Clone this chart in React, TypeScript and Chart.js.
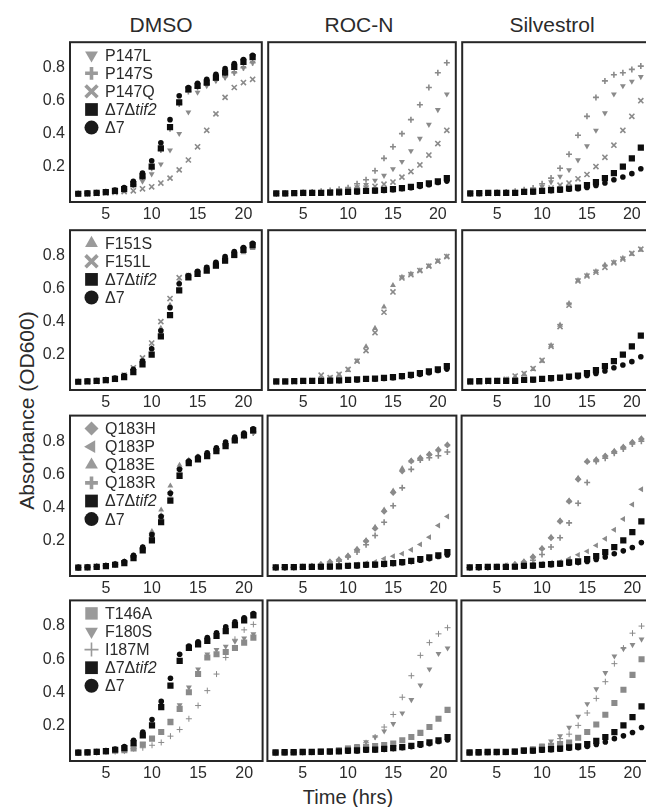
import React, { useEffect, useRef } from 'react';
import { Chart, registerables } from 'chart.js';
import { drawPoint } from 'chart.js/helpers';

Chart.register(...registerables);

// ---------------- data ----------------
const HOURS = [2, 3, 4, 5, 6, 7, 8, 9, 10, 11, 12, 13, 14, 15, 16, 17, 18, 19, 20, 21];
const X_TICKS = [5, 10, 15, 20];
const Y_TICKS = [0.2, 0.4, 0.6, 0.8];
const CONDITIONS = ['DMSO', 'ROC-N', 'Silvestrol'];
const X_TITLE = 'Time (hrs)';
const Y_TITLE = 'Absorbance (OD600)';

// controls (Δ7Δtif2 = squares, Δ7 = circles)
const CTRL_SQ_DMSO = [0.035, 0.037, 0.040, 0.045, 0.053, 0.063, 0.093, 0.140, 0.200, 0.310, 0.440, 0.590, 0.668, 0.690, 0.710, 0.740, 0.770, 0.805, 0.835, 0.865];
const CTRL_CI_DMSO = [0.037, 0.039, 0.042, 0.048, 0.057, 0.072, 0.110, 0.160, 0.235, 0.345, 0.485, 0.630, 0.680, 0.705, 0.730, 0.760, 0.795, 0.825, 0.850, 0.875];
const CTRL_SQ_ROCN = [0.037, 0.038, 0.039, 0.040, 0.040, 0.041, 0.042, 0.043, 0.047, 0.049, 0.053, 0.054, 0.058, 0.063, 0.069, 0.077, 0.087, 0.098, 0.110, 0.130];
const CTRL_CI_ROCN = [0.036, 0.037, 0.038, 0.039, 0.039, 0.040, 0.041, 0.042, 0.044, 0.046, 0.050, 0.052, 0.055, 0.060, 0.065, 0.072, 0.080, 0.090, 0.103, 0.112];
const CTRL_SQ_SILV = [0.037, 0.039, 0.040, 0.040, 0.040, 0.041, 0.047, 0.048, 0.053, 0.057, 0.060, 0.067, 0.073, 0.087, 0.106, 0.130, 0.160, 0.200, 0.250, 0.315];
const CTRL_CI_SILV = [0.036, 0.037, 0.038, 0.039, 0.040, 0.041, 0.044, 0.046, 0.050, 0.053, 0.056, 0.062, 0.066, 0.073, 0.085, 0.100, 0.120, 0.137, 0.157, 0.187];

// row 1
const P147L_DMSO = [0.035, 0.037, 0.040, 0.045, 0.050, 0.058, 0.085, 0.110, 0.155, 0.215, 0.300, 0.400, 0.530, 0.650, 0.690, 0.720, 0.740, 0.770, 0.800, 0.830];
const P147S_DMSO = [0.035, 0.037, 0.040, 0.045, 0.052, 0.062, 0.090, 0.135, 0.190, 0.300, 0.430, 0.580, 0.655, 0.680, 0.700, 0.725, 0.745, 0.770, 0.800, 0.830];
const P147Q_DMSO = [0.033, 0.035, 0.037, 0.040, 0.043, 0.048, 0.053, 0.065, 0.077, 0.100, 0.130, 0.180, 0.240, 0.320, 0.420, 0.520, 0.620, 0.680, 0.710, 0.730];
const P147L_ROCN = [0.037, 0.038, 0.040, 0.041, 0.043, 0.046, 0.050, 0.056, 0.066, 0.077, 0.090, 0.116, 0.146, 0.186, 0.230, 0.295, 0.370, 0.455, 0.545, 0.640];
const P147S_ROCN = [0.037, 0.038, 0.040, 0.042, 0.045, 0.050, 0.055, 0.063, 0.072, 0.096, 0.120, 0.175, 0.250, 0.320, 0.400, 0.485, 0.575, 0.680, 0.770, 0.830];
const P147Q_ROCN = [0.035, 0.036, 0.037, 0.038, 0.040, 0.042, 0.045, 0.050, 0.055, 0.060, 0.070, 0.080, 0.093, 0.106, 0.136, 0.170, 0.210, 0.270, 0.340, 0.420];
const P147L_SILV = [0.037, 0.038, 0.040, 0.041, 0.043, 0.045, 0.050, 0.058, 0.080, 0.106, 0.140, 0.180, 0.240, 0.325, 0.420, 0.525, 0.640, 0.690, 0.717, 0.745];
const P147S_SILV = [0.037, 0.038, 0.040, 0.042, 0.045, 0.050, 0.060, 0.070, 0.096, 0.130, 0.190, 0.275, 0.390, 0.505, 0.620, 0.720, 0.757, 0.770, 0.790, 0.810];
const P147Q_SILV = [0.035, 0.036, 0.037, 0.038, 0.040, 0.042, 0.045, 0.050, 0.055, 0.070, 0.087, 0.100, 0.126, 0.152, 0.200, 0.256, 0.330, 0.420, 0.505, 0.600];

// row 2
const F151S_DMSO = [0.033, 0.035, 0.038, 0.042, 0.048, 0.065, 0.100, 0.160, 0.240, 0.360, 0.500, 0.640, 0.665, 0.685, 0.710, 0.735, 0.765, 0.795, 0.820, 0.845];
const F151L_DMSO = [0.033, 0.035, 0.038, 0.042, 0.050, 0.075, 0.120, 0.180, 0.270, 0.400, 0.540, 0.667, 0.680, 0.700, 0.725, 0.750, 0.780, 0.810, 0.835, 0.855];
const F151S_ROCN = [0.033, 0.034, 0.035, 0.037, 0.040, 0.050, 0.055, 0.075, 0.105, 0.160, 0.248, 0.360, 0.490, 0.620, 0.670, 0.690, 0.710, 0.737, 0.767, 0.795];
const F151L_ROCN = [0.033, 0.034, 0.035, 0.037, 0.042, 0.075, 0.060, 0.080, 0.110, 0.160, 0.224, 0.333, 0.457, 0.580, 0.665, 0.685, 0.710, 0.737, 0.767, 0.795];
const F151S_SILV = [0.033, 0.034, 0.036, 0.040, 0.048, 0.065, 0.080, 0.110, 0.160, 0.255, 0.380, 0.510, 0.650, 0.680, 0.705, 0.745, 0.760, 0.785, 0.810, 0.835];
const F151L_SILV = [0.033, 0.034, 0.036, 0.040, 0.050, 0.070, 0.085, 0.115, 0.165, 0.250, 0.370, 0.500, 0.647, 0.677, 0.700, 0.730, 0.757, 0.780, 0.814, 0.840];

// row 3
const Q183H_DMSO = [0.036, 0.038, 0.041, 0.047, 0.056, 0.070, 0.105, 0.155, 0.240, 0.350, 0.490, 0.635, 0.680, 0.705, 0.725, 0.755, 0.785, 0.815, 0.840, 0.860];
const Q183P_DMSO = [0.036, 0.038, 0.041, 0.046, 0.055, 0.068, 0.100, 0.150, 0.230, 0.340, 0.480, 0.625, 0.675, 0.700, 0.720, 0.750, 0.780, 0.810, 0.835, 0.855];
const Q183E_DMSO = [0.036, 0.038, 0.041, 0.047, 0.057, 0.072, 0.108, 0.160, 0.255, 0.385, 0.530, 0.656, 0.685, 0.705, 0.725, 0.755, 0.785, 0.815, 0.840, 0.860];
const Q183R_DMSO = [0.036, 0.038, 0.041, 0.046, 0.054, 0.066, 0.098, 0.145, 0.220, 0.330, 0.460, 0.610, 0.670, 0.695, 0.715, 0.745, 0.775, 0.805, 0.830, 0.850];
const Q183H_ROCN = [0.035, 0.036, 0.038, 0.040, 0.045, 0.055, 0.070, 0.083, 0.105, 0.144, 0.196, 0.273, 0.376, 0.490, 0.620, 0.680, 0.697, 0.720, 0.747, 0.777];
const Q183P_ROCN = [0.035, 0.036, 0.037, 0.038, 0.040, 0.042, 0.044, 0.046, 0.050, 0.055, 0.062, 0.070, 0.090, 0.105, 0.120, 0.144, 0.176, 0.220, 0.290, 0.345];
const Q183E_ROCN = [0.035, 0.036, 0.038, 0.040, 0.045, 0.055, 0.070, 0.085, 0.108, 0.148, 0.200, 0.280, 0.385, 0.500, 0.635, 0.682, 0.700, 0.722, 0.750, 0.780];
const Q183R_ROCN = [0.035, 0.036, 0.037, 0.039, 0.042, 0.048, 0.058, 0.075, 0.100, 0.130, 0.174, 0.230, 0.310, 0.410, 0.518, 0.630, 0.686, 0.700, 0.712, 0.735];
const Q183H_SILV = [0.035, 0.036, 0.038, 0.040, 0.045, 0.055, 0.070, 0.100, 0.150, 0.216, 0.316, 0.437, 0.570, 0.677, 0.686, 0.710, 0.737, 0.763, 0.793, 0.814];
const Q183P_SILV = [0.035, 0.037, 0.040, 0.045, 0.050, 0.050, 0.055, 0.058, 0.060, 0.065, 0.070, 0.090, 0.113, 0.134, 0.170, 0.210, 0.265, 0.330, 0.417, 0.510];
const Q183E_SILV = [0.035, 0.036, 0.038, 0.040, 0.046, 0.056, 0.072, 0.102, 0.152, 0.220, 0.320, 0.440, 0.577, 0.680, 0.690, 0.712, 0.740, 0.766, 0.795, 0.816];
const Q183R_SILV = [0.035, 0.036, 0.037, 0.039, 0.042, 0.048, 0.058, 0.080, 0.115, 0.160, 0.216, 0.306, 0.425, 0.550, 0.677, 0.697, 0.727, 0.753, 0.783, 0.800];

// row 4
const T146A_DMSO = [0.035, 0.036, 0.040, 0.043, 0.047, 0.050, 0.060, 0.085, 0.120, 0.160, 0.220, 0.300, 0.400, 0.510, 0.610, 0.630, 0.643, 0.667, 0.700, 0.730];
const F180S_DMSO = [0.035, 0.036, 0.040, 0.043, 0.047, 0.052, 0.065, 0.090, 0.125, 0.165, 0.230, 0.323, 0.430, 0.540, 0.630, 0.657, 0.677, 0.707, 0.727, 0.753];
const I187M_DMSO = [0.033, 0.034, 0.036, 0.039, 0.042, 0.045, 0.060, 0.065, 0.080, 0.097, 0.135, 0.175, 0.240, 0.320, 0.410, 0.510, 0.610, 0.720, 0.777, 0.810];
const T146A_ROCN = [0.033, 0.034, 0.035, 0.036, 0.038, 0.040, 0.045, 0.050, 0.060, 0.067, 0.070, 0.075, 0.081, 0.090, 0.110, 0.130, 0.155, 0.190, 0.240, 0.294];
const F180S_ROCN = [0.033, 0.034, 0.035, 0.036, 0.038, 0.042, 0.048, 0.055, 0.067, 0.077, 0.100, 0.130, 0.165, 0.210, 0.274, 0.355, 0.443, 0.540, 0.633, 0.667];
const I187M_ROCN = [0.033, 0.034, 0.035, 0.036, 0.038, 0.040, 0.044, 0.048, 0.055, 0.065, 0.095, 0.130, 0.190, 0.266, 0.370, 0.500, 0.623, 0.700, 0.753, 0.790];
const T146A_SILV = [0.033, 0.034, 0.035, 0.036, 0.038, 0.042, 0.050, 0.055, 0.070, 0.077, 0.087, 0.097, 0.125, 0.160, 0.205, 0.264, 0.335, 0.415, 0.505, 0.600];
const F180S_SILV = [0.033, 0.034, 0.035, 0.037, 0.040, 0.045, 0.052, 0.060, 0.080, 0.105, 0.137, 0.187, 0.254, 0.330, 0.420, 0.518, 0.618, 0.663, 0.687, 0.720];
const I187M_SILV = [0.033, 0.034, 0.035, 0.036, 0.038, 0.042, 0.048, 0.055, 0.070, 0.090, 0.120, 0.147, 0.200, 0.275, 0.363, 0.464, 0.573, 0.667, 0.757, 0.800];

const LABEL_DD = 'Δ7Δtif2';
const LABEL_D = 'Δ7';

// ---------------- styles ----------------
const FONT = '"Liberation Sans", Arial, Helvetica, sans-serif';
const GRAY = '#8a8a8a';
const LEGEND_GRAY = '#9a9a9a';
const BLACK = '#0d0d0d';
const TEXT = '#2b2b2b';
const BOX = '#262626';

type MarkerStyle = {
  pointStyle: string; rotation: number; r: number; bw: number; lr: number; lbw: number; color: string; lcolor: string;
};
const MARKERS: Record<string, MarkerStyle> = {
  triDown: { pointStyle: 'triangle', rotation: 180, r: 3.4, bw: 0, lr: 7.4, lbw: 0, color: GRAY, lcolor: LEGEND_GRAY },
  triUp: { pointStyle: 'triangle', rotation: 0, r: 3.4, bw: 0, lr: 7.4, lbw: 0, color: GRAY, lcolor: LEGEND_GRAY },
  triLeft: { pointStyle: 'triangle', rotation: 270, r: 3.4, bw: 0, lr: 7.4, lbw: 0, color: GRAY, lcolor: LEGEND_GRAY },
  plus: { pointStyle: 'cross', rotation: 0, r: 3.0, bw: 1.6, lr: 6.4, lbw: 3.6, color: GRAY, lcolor: LEGEND_GRAY },
  thinPlus: { pointStyle: 'cross', rotation: 0, r: 3.0, bw: 1.0, lr: 7.0, lbw: 1.6, color: GRAY, lcolor: LEGEND_GRAY },
  ex: { pointStyle: 'crossRot', rotation: 0, r: 3.6, bw: 1.6, lr: 8.4, lbw: 3.6, color: GRAY, lcolor: LEGEND_GRAY },
  diamond: { pointStyle: 'rectRot', rotation: 0, r: 3.4, bw: 0, lr: 7.0, lbw: 0, color: GRAY, lcolor: LEGEND_GRAY },
  graySquare: { pointStyle: 'rect', rotation: 0, r: 4.3, bw: 0, lr: 8.8, lbw: 0, color: GRAY, lcolor: LEGEND_GRAY },
  blackSquare: { pointStyle: 'rect', rotation: 0, r: 4.4, bw: 0, lr: 9.0, lbw: 0, color: BLACK, lcolor: '#1a1a1a' },
  blackCircle: { pointStyle: 'circle', rotation: 0, r: 2.8, bw: 0, lr: 7.0, lbw: 0, color: BLACK, lcolor: '#1a1a1a' },
};

type Series = { label: string; marker: string; values: number[][] };

const CONTROLS: Series[] = [
  { label: LABEL_DD, marker: 'blackSquare', values: [CTRL_SQ_DMSO, CTRL_SQ_ROCN, CTRL_SQ_SILV] },
  { label: LABEL_D, marker: 'blackCircle', values: [CTRL_CI_DMSO, CTRL_CI_ROCN, CTRL_CI_SILV] },
];

const ROWS: Series[][] = [
  [
    { label: 'P147L', marker: 'triDown', values: [P147L_DMSO, P147L_ROCN, P147L_SILV] },
    { label: 'P147S', marker: 'plus', values: [P147S_DMSO, P147S_ROCN, P147S_SILV] },
    { label: 'P147Q', marker: 'ex', values: [P147Q_DMSO, P147Q_ROCN, P147Q_SILV] },
    ...CONTROLS,
  ],
  [
    { label: 'F151S', marker: 'triUp', values: [F151S_DMSO, F151S_ROCN, F151S_SILV] },
    { label: 'F151L', marker: 'ex', values: [F151L_DMSO, F151L_ROCN, F151L_SILV] },
    ...CONTROLS,
  ],
  [
    { label: 'Q183H', marker: 'diamond', values: [Q183H_DMSO, Q183H_ROCN, Q183H_SILV] },
    { label: 'Q183P', marker: 'triLeft', values: [Q183P_DMSO, Q183P_ROCN, Q183P_SILV] },
    { label: 'Q183E', marker: 'triUp', values: [Q183E_DMSO, Q183E_ROCN, Q183E_SILV] },
    { label: 'Q183R', marker: 'plus', values: [Q183R_DMSO, Q183R_ROCN, Q183R_SILV] },
    ...CONTROLS,
  ],
  [
    { label: 'T146A', marker: 'graySquare', values: [T146A_DMSO, T146A_ROCN, T146A_SILV] },
    { label: 'F180S', marker: 'triDown', values: [F180S_DMSO, F180S_ROCN, F180S_SILV] },
    { label: 'I187M', marker: 'thinPlus', values: [I187M_DMSO, I187M_ROCN, I187M_SILV] },
    ...CONTROLS,
  ],
];

// ---------------- layout ----------------
const COL_LEFT = [70, 265, 459];
const COL_W = [195, 194, 194];
const ROW_TOP = [39, 227, 413, 598];
const ROW_H = 163;
const Y_AXIS_W = 70;
const X_AXIS_H = 26;
const PAD = 2;
const X_MIN = 1.1, X_MAX = 22;
const Y_MIN = -0.015, Y_MAX = 0.955;

const boxPlugin = {
  id: 'panelBox',
  afterDatasetsDraw(chart: any) {
    const { ctx, chartArea: a } = chart;
    ctx.save();
    ctx.strokeStyle = BOX;
    ctx.lineWidth = 2;
    ctx.strokeRect(a.left, a.top, a.right - a.left, a.bottom - a.top);
    ctx.restore();
  },
};

function makeLegendPlugin(series: Series[]) {
  return {
    id: 'insideLegend',
    afterDraw(chart: any) {
      const { ctx, chartArea: a } = chart;
      ctx.save();
      series.forEach((s, i) => {
        const m = MARKERS[s.marker];
        const cy = a.top + 13 + i * 18.1;
        const cx = a.left + 21.5;
        ctx.fillStyle = m.lcolor;
        ctx.strokeStyle = m.lcolor;
        ctx.lineWidth = m.lbw;
        drawPoint(ctx, { pointStyle: m.pointStyle as any, rotation: m.rotation, radius: m.lr, borderWidth: m.lbw }, cx, cy);
        ctx.fillStyle = TEXT;
        ctx.textBaseline = 'middle';
        ctx.textAlign = 'left';
        let tx = a.left + 35;
        const idx = s.label.indexOf('tif2');
        const parts = idx >= 0 ? [[s.label.slice(0, idx), false], [s.label.slice(idx), true]] : [[s.label, false]];
        parts.forEach(([t, it]) => {
          ctx.font = `${it ? 'italic ' : ''}16px ${FONT}`;
          ctx.fillText(t as string, tx, cy + 1);
          tx += ctx.measureText(t as string).width;
        });
      });
      ctx.restore();
    },
  };
}

function Panel({ row, col }: { row: number; col: number }) {
  const ref = useRef<HTMLCanvasElement>(null);
  const leftExtra = col === 0 ? Y_AXIS_W : PAD;
  const width = leftExtra + COL_W[col] + PAD;
  const height = PAD + ROW_H + X_AXIS_H;
  const left = COL_LEFT[col] - leftExtra;
  const top = ROW_TOP[row] - PAD;

  useEffect(() => {
    const series = ROWS[row];
    const drawOrder = [...series].reverse(); // controls first -> drawn on top
    const datasets = drawOrder.map((s) => {
      const m = MARKERS[s.marker];
      return {
        label: s.label,
        data: HOURS.map((h, i) => ({ x: h, y: s.values[col][i] })),
        showLine: false,
        pointStyle: m.pointStyle,
        pointRotation: m.rotation,
        pointRadius: m.r,
        pointHoverRadius: m.r,
        pointBorderWidth: m.bw,
        pointBackgroundColor: m.color,
        pointBorderColor: m.color,
        backgroundColor: m.color,
        borderColor: m.color,
      };
    });
    const tickFont = { family: FONT, size: 16 };
    const plugins: any[] = [boxPlugin];
    if (col === 0) plugins.push(makeLegendPlugin(series));
    const chart = new Chart(ref.current as HTMLCanvasElement, {
      type: 'scatter',
      data: { datasets } as any,
      options: {
        animation: false,
        responsive: false,
        maintainAspectRatio: false,
        events: [],
        layout: { padding: { left: col === 0 ? 0 : PAD, right: PAD, top: PAD, bottom: 0 } },
        plugins: { legend: { display: false }, tooltip: { enabled: false }, title: { display: false } },
        scales: {
          x: {
            type: 'linear',
            min: X_MIN,
            max: X_MAX,
            afterBuildTicks: (s: any) => { s.ticks = X_TICKS.map((v) => ({ value: v })); },
            afterFit: (s: any) => { s.height = X_AXIS_H; s.paddingLeft = 0; s.paddingRight = 0; s.paddingTop = 0; s.paddingBottom = 0; },
            grid: { display: false, drawTicks: false },
            border: { display: false },
            ticks: { font: tickFont, color: TEXT, padding: 3, maxRotation: 0, autoSkip: false, callback: (v: any) => String(v) },
          },
          y: {
            type: 'linear',
            display: col === 0,
            min: Y_MIN,
            max: Y_MAX,
            afterBuildTicks: (s: any) => { s.ticks = Y_TICKS.map((v) => ({ value: v })); },
            afterFit: (s: any) => { s.width = col === 0 ? Y_AXIS_W : 0; s.paddingTop = 0; s.paddingBottom = 0; s.paddingLeft = 0; s.paddingRight = 0; },
            grid: { display: false, drawTicks: false },
            border: { display: false },
            ticks: { font: tickFont, color: TEXT, padding: 5, autoSkip: false, callback: (v: any) => Number(v).toFixed(1) },
          },
        },
      } as any,
      plugins,
    });
    return () => chart.destroy();
  }, [row, col]);

  return (
    <canvas
      ref={ref}
      width={width}
      height={height}
      style={{ position: 'absolute', left, top, width, height }}
    />
  );
}

const TITLE_CENTERS = [161, 359, 552];

export default function App() {
  const panels: React.ReactNode[] = [];
  ROWS.forEach((_, r) => CONDITIONS.forEach((__, c) => panels.push(<Panel key={`${r}-${c}`} row={r} col={c} />)));
  return (
    <div style={{ position: 'fixed', left: 0, top: 0, width: 646, height: 807, overflow: 'hidden', background: '#fff', fontFamily: FONT, color: TEXT }}>
      {CONDITIONS.map((t, i) => (
        <div key={t} style={{ position: 'absolute', left: TITLE_CENTERS[i] - 100, width: 200, top: 13.5, height: 21, lineHeight: '21px', fontSize: 21, textAlign: 'center', whiteSpace: 'nowrap' }}>{t}</div>
      ))}
      <div style={{ position: 'absolute', left: 26 - 150, top: 410 - 10.5, width: 300, height: 21, lineHeight: '21px', fontSize: 21, textAlign: 'center', transform: 'rotate(-90deg)', whiteSpace: 'nowrap' }}>{Y_TITLE}</div>
      <div style={{ position: 'absolute', left: 348 - 100, top: 786.5, width: 200, height: 20, lineHeight: '20px', fontSize: 20, textAlign: 'center', whiteSpace: 'nowrap' }}>{X_TITLE}</div>
      {panels}
    </div>
  );
}
